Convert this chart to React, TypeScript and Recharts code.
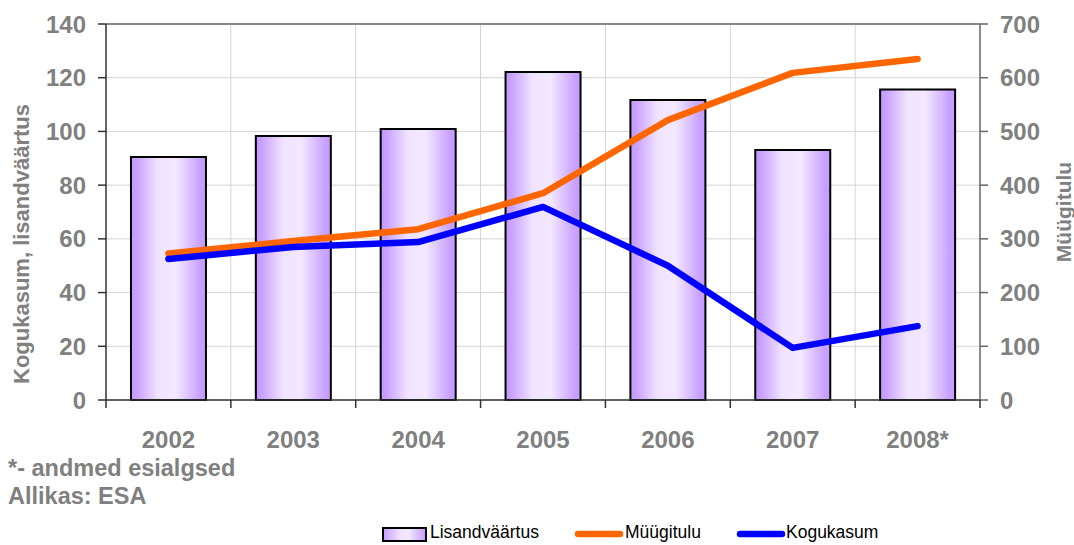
import React from 'react';
import {
  ComposedChart, Bar, Line, XAxis, YAxis, CartesianGrid, ReferenceLine, Legend,
} from 'recharts';

const categories = ['2002', '2003', '2004', '2005', '2006', '2007', '2008*'];
const lisandvaartus = [90.5, 98.3, 100.9, 122.1, 111.7, 93.1, 115.6];
const myygitulu = [273, 296, 318, 385, 521, 609, 635];
const kogukasum = [52.5, 57.0, 58.8, 71.9, 50.0, 19.4, 27.5];
const leftTicks = [0, 20, 40, 60, 80, 100, 120, 140];
const rightTicks = [0, 100, 200, 300, 400, 500, 600, 700];

const data = categories.map((c, i) => ({
  year: c,
  Lisandväärtus: lisandvaartus[i],
  Müügitulu: myygitulu[i],
  Kogukasum: kogukasum[i],
}));

const W = 1074;
const H = 545;
const LEFT_W = 106;
const RIGHT_W = 94;
const TOP = 24;
const PLOT_W = W - LEFT_W - RIGHT_W;
const STEP = PLOT_W / categories.length;
const FONT = '"Liberation Sans", Arial, sans-serif';
const GREY = '#808080';

const XTick = (props: any) => {
  const { x, y, payload, index } = props;
  const last = index === categories.length - 1;
  return (
    <g>
      <line x1={x - STEP / 2} x2={x - STEP / 2} y1={y} y2={y + 8} stroke="#333" strokeWidth={1.5} />
      {last && <line x1={x + STEP / 2} x2={x + STEP / 2} y1={y} y2={y + 8} stroke="#333" strokeWidth={1.5} />}
      <text x={x} y={y + 48} textAnchor="middle" fill={GREY} fontSize={24} fontWeight="bold" fontFamily={FONT}>
        {payload.value}
      </text>
    </g>
  );
};

const LegendContent = () => {
  const txt: React.CSSProperties = {
    position: 'absolute', top: 7, fontFamily: FONT, fontSize: 17.5, color: '#000', lineHeight: '20px',
  };
  return (
    <div style={{ position: 'relative', width: W, height: 30 }}>
      <svg style={{ position: 'absolute', left: 382, top: 12 }} width={46} height={16}>
        <defs>
          <linearGradient id="legGrad" x1="0" y1="0" x2="1" y2="0">
            <stop offset="0" stopColor="#c69bff" />
            <stop offset="0.4" stopColor="#f1e3ff" />
            <stop offset="0.6" stopColor="#f3e8ff" />
            <stop offset="1" stopColor="#c49aff" />
          </linearGradient>
        </defs>
        <rect x={1} y={1} width={43} height={13} fill="url(#legGrad)" stroke="#000" strokeWidth={2} />
      </svg>
      <span style={{ ...txt, left: 430 }}>Lisandväärtus</span>
      <svg style={{ position: 'absolute', left: 574, top: 14 }} width={50} height={10}>
        <line x1={4} x2={46} y1={5} y2={5} stroke="#ff6600" strokeWidth={6.5} strokeLinecap="round" />
      </svg>
      <span style={{ ...txt, left: 625 }}>Müügitulu</span>
      <svg style={{ position: 'absolute', left: 736, top: 14 }} width={50} height={10}>
        <line x1={4} x2={46} y1={5} y2={5} stroke="#0000ff" strokeWidth={6.5} strokeLinecap="round" />
      </svg>
      <span style={{ ...txt, left: 786 }}>Kogukasum</span>
    </div>
  );
};

export default function App() {
  const tickStyle = { fill: GREY, fontSize: 24, fontWeight: 'bold', fontFamily: FONT } as any;
  return (
    <div style={{ position: 'absolute', left: 0, top: 0, width: W, height: H, background: '#fff' }}>
      <ComposedChart
        width={W}
        height={H}
        data={data}
        margin={{ top: TOP, right: 0, bottom: 0, left: 0 }}
        barCategoryGap="20%"
      >
        <defs>
          <linearGradient id="barGrad" x1="0" y1="0" x2="1" y2="0">
            <stop offset="0" stopColor="#c496ff" />
            <stop offset="0.08" stopColor="#c9a2ff" />
            <stop offset="0.36" stopColor="#f1e3ff" />
            <stop offset="0.6" stopColor="#f3e8ff" />
            <stop offset="0.92" stopColor="#c9a2ff" />
            <stop offset="1" stopColor="#c49aff" />
          </linearGradient>
        </defs>
        <CartesianGrid
          yAxisId="left"
          stroke="#d4d4d4"
          strokeWidth={1}
          verticalCoordinatesGenerator={({ offset }: any) =>
            categories.slice(1).map((_, i) => offset.left + (i + 1) * (offset.width / categories.length))
          }
        />
        <XAxis
          dataKey="year"
          height={115}
          tickLine={false}
          tickSize={0}
          tickMargin={0}
          axisLine={{ stroke: '#333', strokeWidth: 1.5 }}
          tick={<XTick />}
          interval={0}
        />
        <YAxis
          yAxisId="left"
          orientation="left"
          width={LEFT_W}
          domain={[0, 140]}
          ticks={leftTicks}
          interval={0}
          tickSize={8}
          tickMargin={12}
          axisLine={{ stroke: '#333', strokeWidth: 1.5 }}
          tickLine={{ stroke: '#333', strokeWidth: 1.5 }}
          tick={tickStyle}
        />
        <YAxis
          yAxisId="right"
          orientation="right"
          width={RIGHT_W}
          domain={[0, 700]}
          ticks={rightTicks}
          interval={0}
          tickSize={8}
          tickMargin={12}
          axisLine={{ stroke: '#666', strokeWidth: 1.5 }}
          tickLine={{ stroke: '#666', strokeWidth: 1.5 }}
          tick={tickStyle}
        />
        <ReferenceLine yAxisId="left" y={140} stroke="#888" strokeWidth={2} />
        <Bar
          yAxisId="left"
          dataKey="Lisandväärtus"
          fill="url(#barGrad)"
          stroke="#000"
          strokeWidth={2}
          isAnimationActive={false}
        />
        <Line
          yAxisId="right"
          dataKey="Müügitulu"
          stroke="#ff6600"
          strokeWidth={6.5}
          strokeLinecap="round"
          strokeLinejoin="round"
          dot={false}
          activeDot={false}
          type="linear"
          isAnimationActive={false}
        />
        <Line
          yAxisId="left"
          dataKey="Kogukasum"
          stroke="#0000ff"
          strokeWidth={6.5}
          strokeLinecap="round"
          strokeLinejoin="round"
          dot={false}
          activeDot={false}
          type="linear"
          isAnimationActive={false}
        />
        <Legend
          verticalAlign="bottom"
          height={30}
          content={<LegendContent />}
          wrapperStyle={{ left: 0, width: W, height: 30, bottom: 0 }}
        />
      </ComposedChart>
      <div
        style={{
          position: 'absolute', left: 22, top: 244, transform: 'translate(-50%, -50%) rotate(-90deg)',
          whiteSpace: 'nowrap', fontFamily: FONT, fontWeight: 'bold', fontSize: 22, color: GREY,
        }}
      >
        Kogukasum, lisandväärtus
      </div>
      <div
        style={{
          position: 'absolute', left: 1064, top: 212, transform: 'translate(-50%, -50%) rotate(-90deg)',
          whiteSpace: 'nowrap', fontFamily: FONT, fontWeight: 'bold', fontSize: 21, color: GREY,
        }}
      >
        Müügitulu
      </div>
      <div
        style={{
          position: 'absolute', left: 8, top: 454, fontFamily: FONT, fontWeight: 'bold', fontSize: 23.5,
          color: GREY, lineHeight: '28px', whiteSpace: 'nowrap',
        }}
      >
        <div>*- andmed esialgsed</div>
        <div>Allikas: ESA</div>
      </div>
    </div>
  );
}
